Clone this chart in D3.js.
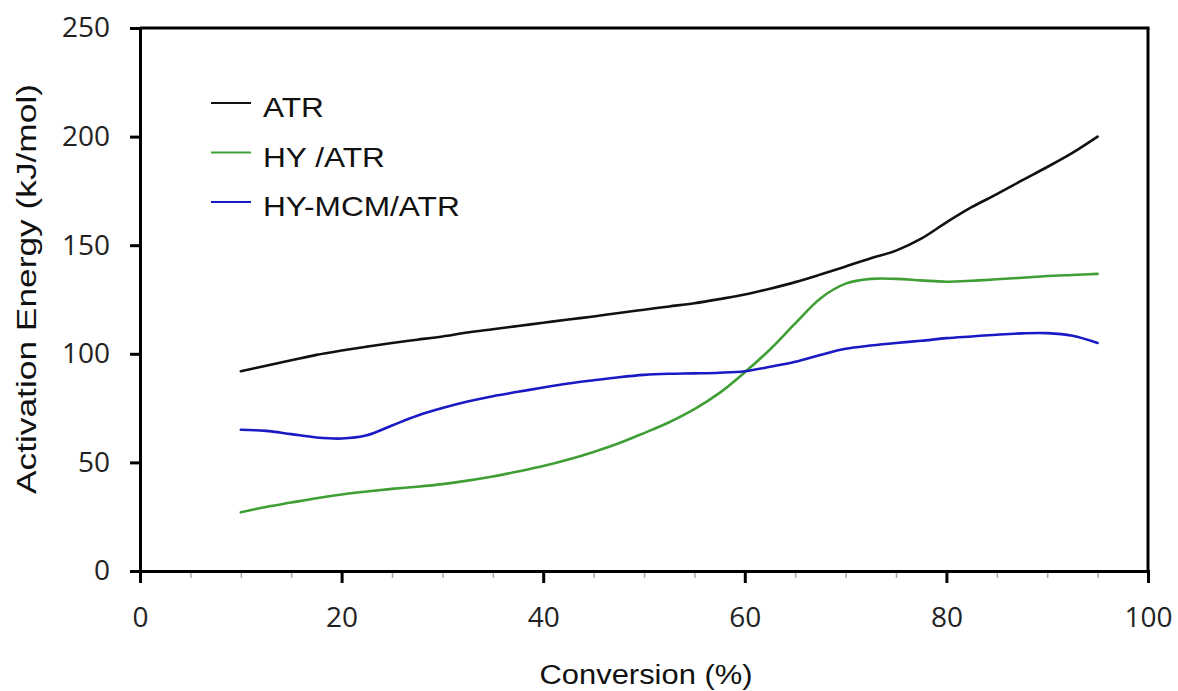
<!DOCTYPE html>
<html>
<head>
<meta charset="utf-8">
<script src="https://cdn.jsdelivr.net/npm/d3@7"></script>
<style>
  body { margin: 0; background: #fff; }
  .tick text { font-family: "Open Sans", sans-serif; }
</style>
</head>
<body>
<svg id="chart" width="1178" height="691"></svg>
<script>
// Conversion (%) sampled every 2.5
var conversion = [10, 12.5, 15, 17.5, 20, 22.5, 25, 27.5, 30, 32.5, 35, 37.5, 40, 42.5, 45, 47.5,
    50, 52.5, 55, 57.5, 60, 62.5, 65, 67.5, 70, 72.5, 75, 77.5, 80, 82.5, 85, 87.5, 90, 92.5, 95];

// Activation energy (kJ/mol) for each catalyst
var atr = [92, 94.5, 97, 99.5, 101.5, 103.3, 105, 106.5, 108, 109.8, 111.3, 112.8, 114.3, 115.8, 117.2, 118.8,
    120.3, 121.8, 123.3, 125.2, 127.3, 130, 133, 136.5, 140.2, 144, 147.5, 153, 160.5, 167.5, 173.5, 179.8, 186, 192.5, 200];
var hyAtr = [27, 29.5, 31.5, 33.5, 35.2, 36.6, 37.8, 38.8, 40, 41.6, 43.5, 45.8, 48.3, 51.3, 54.8, 58.8,
    63.5, 68.5, 74.5, 82, 91.5, 102, 114, 125.5, 132.3, 134.5, 134.5, 133.8, 133.2, 133.6, 134.3, 135, 135.8, 136.3, 136.8];
var hyMcmAtr = [65, 64.5, 63, 61.5, 61, 62.5, 67, 71.5, 75, 78, 80.5, 82.5, 84.5, 86.3, 87.8, 89.2,
    90.3, 90.8, 91, 91.3, 92, 94, 96.3, 99.5, 102.3, 103.8, 105, 106, 107.2, 108, 108.8, 109.4, 109.5, 108.3, 105];

var seriesNames = ["ATR", "HY /ATR", "HY-MCM/ATR"];
var seriesColors = ["#111111", "#3f9f35", "#1a1ac4"];
var seriesValues = [atr, hyAtr, hyMcmAtr];

var xTicks = [0, 20, 40, 60, 80, 100];
var xMinorTicks = [5, 10, 15, 25, 30, 35, 45, 50, 55, 65, 70, 75, 85, 90, 95];
var yTicks = [0, 50, 100, 150, 200, 250];

var svg = d3.select("#chart");
var plotLeft = 140, plotRight = 1148, plotTop = 28, plotBottom = 571;

var x = d3.scaleLinear().domain([0, 100]).range([plotLeft, plotRight]);
var y = d3.scaleLinear().domain([0, 250]).range([plotBottom, plotTop]);

// frame: top and right lines
svg.append("line")
    .attr("x1", plotLeft).attr("x2", plotRight + 1.5)
    .attr("y1", plotTop).attr("y2", plotTop)
    .attr("stroke", "#000").attr("stroke-width", 3);
svg.append("line")
    .attr("x1", plotRight).attr("x2", plotRight)
    .attr("y1", plotTop).attr("y2", plotBottom)
    .attr("stroke", "#000").attr("stroke-width", 3);

// minor x ticks
var minor = svg.append("g")
    .attr("transform", "translate(0," + plotBottom + ")")
    .call(d3.axisBottom(x).tickValues(xMinorTicks).tickSize(7).tickFormat(""));
minor.select(".domain").remove();
minor.selectAll("line").attr("stroke", "#aaa").attr("stroke-width", 1.5);

// x axis
var xAxis = svg.append("g")
    .attr("transform", "translate(0," + plotBottom + ")")
    .call(d3.axisBottom(x).tickValues(xTicks).tickSizeOuter(0).tickSize(12).tickPadding(24));
xAxis.select(".domain").attr("stroke-width", 3);
xAxis.selectAll("line").attr("stroke-width", 3);
xAxis.selectAll("text").attr("font-size", 28).attr("fill", "#222");

// y axis
var yAxis = svg.append("g")
    .attr("transform", "translate(" + plotLeft + ",0)")
    .call(d3.axisLeft(y).tickValues(yTicks).tickSizeOuter(0).tickSize(10).tickPadding(20));
yAxis.select(".domain").attr("stroke-width", 3);
yAxis.selectAll("line").attr("stroke-width", 3);
yAxis.selectAll("text").attr("font-size", 28).attr("fill", "#222");

// series lines
var line = d3.line()
    .x(function(d) { return x(d[0]); })
    .y(function(d) { return y(d[1]); })
    .curve(d3.curveCatmullRom.alpha(0.5));

seriesValues.forEach(function(vals, i) {
    svg.append("path")
        .datum(conversion.map(function(c, j) { return [c, vals[j]]; }))
        .attr("fill", "none")
        .attr("stroke", seriesColors[i])
        .attr("stroke-width", 2.6)
        .attr("stroke-linejoin", "round")
        .attr("stroke-linecap", "round")
        .attr("d", line);
});

// legend
var legend = svg.append("g").attr("transform", "translate(211,103)");
seriesNames.forEach(function(name, i) {
    var row = legend.append("g").attr("transform", "translate(0," + i * 49.5 + ")");
    row.append("line")
        .attr("x1", 0).attr("x2", 40)
        .attr("stroke", seriesColors[i]).attr("stroke-width", 2);
    row.append("text")
        .attr("transform", "translate(52,14) scale(1.13,1)")
        .attr("font-family", "Liberation Sans, Arial, sans-serif")
        .attr("font-size", 28)
        .attr("fill", "#111")
        .text(name);
});

// axis titles
svg.append("text")
    .attr("transform", "translate(36,289) rotate(-90)")
    .attr("text-anchor", "middle")
    .attr("font-family", "Liberation Sans, Arial, sans-serif")
    .attr("font-size", 27)
    .attr("textLength", 410)
    .attr("lengthAdjust", "spacingAndGlyphs")
    .attr("fill", "#111")
    .text("Activation Energy (kJ/mol)");

svg.append("text")
    .attr("x", 646).attr("y", 684)
    .attr("text-anchor", "middle")
    .attr("font-family", "Liberation Sans, Arial, sans-serif")
    .attr("font-size", 27)
    .attr("textLength", 213)
    .attr("lengthAdjust", "spacingAndGlyphs")
    .attr("fill", "#111")
    .text("Conversion (%)");
</script>
</body>
</html>
